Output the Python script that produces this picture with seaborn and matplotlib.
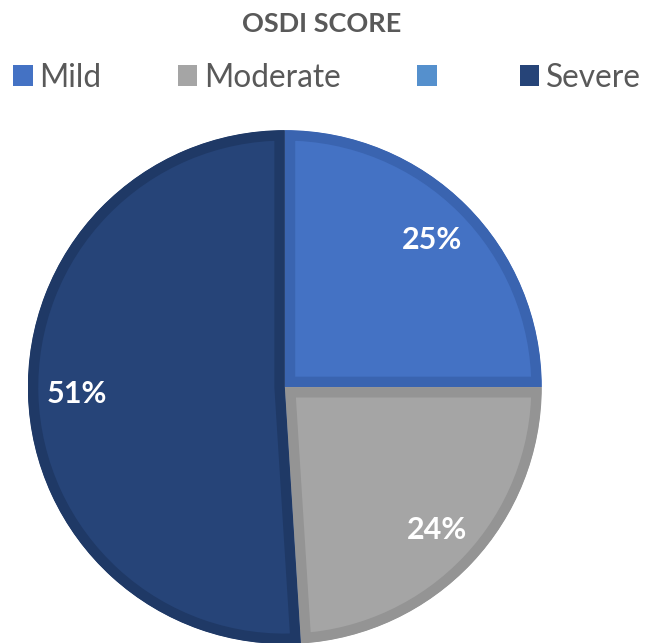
"""OSDI score pie chart."""

import matplotlib
matplotlib.use("Agg")
import matplotlib.pyplot as plt
from matplotlib.patches import Patch
import seaborn as sns

sns.set_theme(style="white")
plt.rcParams["font.family"] = ["Lato", "DejaVu Sans"]

# data
categories = ["Mild", "Moderate", "", "Severe"]
shares = [25, 24, 0, 51]
fills = ["#4472C4", "#A5A5A5", "#5590CD", "#264478"]
edges = ["#3A64B0", "#949494", "#4A80BC", "#1F3966"]

TEXT = "#595959"

fig = plt.figure(figsize=(6.48, 6.43), dpi=100)
ax = fig.add_axes([0.043, -0.002, 0.793, 0.8])

wedges, _, autotexts = ax.pie(
    shares,
    colors=fills,
    startangle=90,
    counterclock=False,
    autopct=lambda p: f"{p:.0f}%" if p > 0 else "",
    pctdistance=0.81,
    wedgeprops=dict(linewidth=15, joinstyle="miter"),
    textprops=dict(color="white", fontsize=22, fontweight="bold"),
)
# inset darker border: stroke clipped to the wedge itself
for w, ec in zip(wedges, edges):
    w.set_edgecolor(ec)
    w.set_clip_on(True)
    w.set_clip_path(w)
ax.set_xlim(-1, 1)
ax.set_ylim(-1, 1)
ax.set_aspect("equal")
ax.axis("off")

fig.text(0.497, 0.963, "OSDI SCORE", ha="center", va="center",
         fontsize=19.5, fontweight="bold", color=TEXT)

handles = [Patch(facecolor=c, edgecolor="none") for c in fills]
fig.legend(handles, categories, loc="center left", bbox_to_anchor=(0.02, 0.879),
           ncol=4, frameon=False, fontsize=22.8, labelcolor=TEXT,
           handlelength=0.62, handleheight=0.62, handletextpad=0.22,
           columnspacing=2.4, borderpad=0, borderaxespad=0)

fig.savefig("out.png", dpi=100)
